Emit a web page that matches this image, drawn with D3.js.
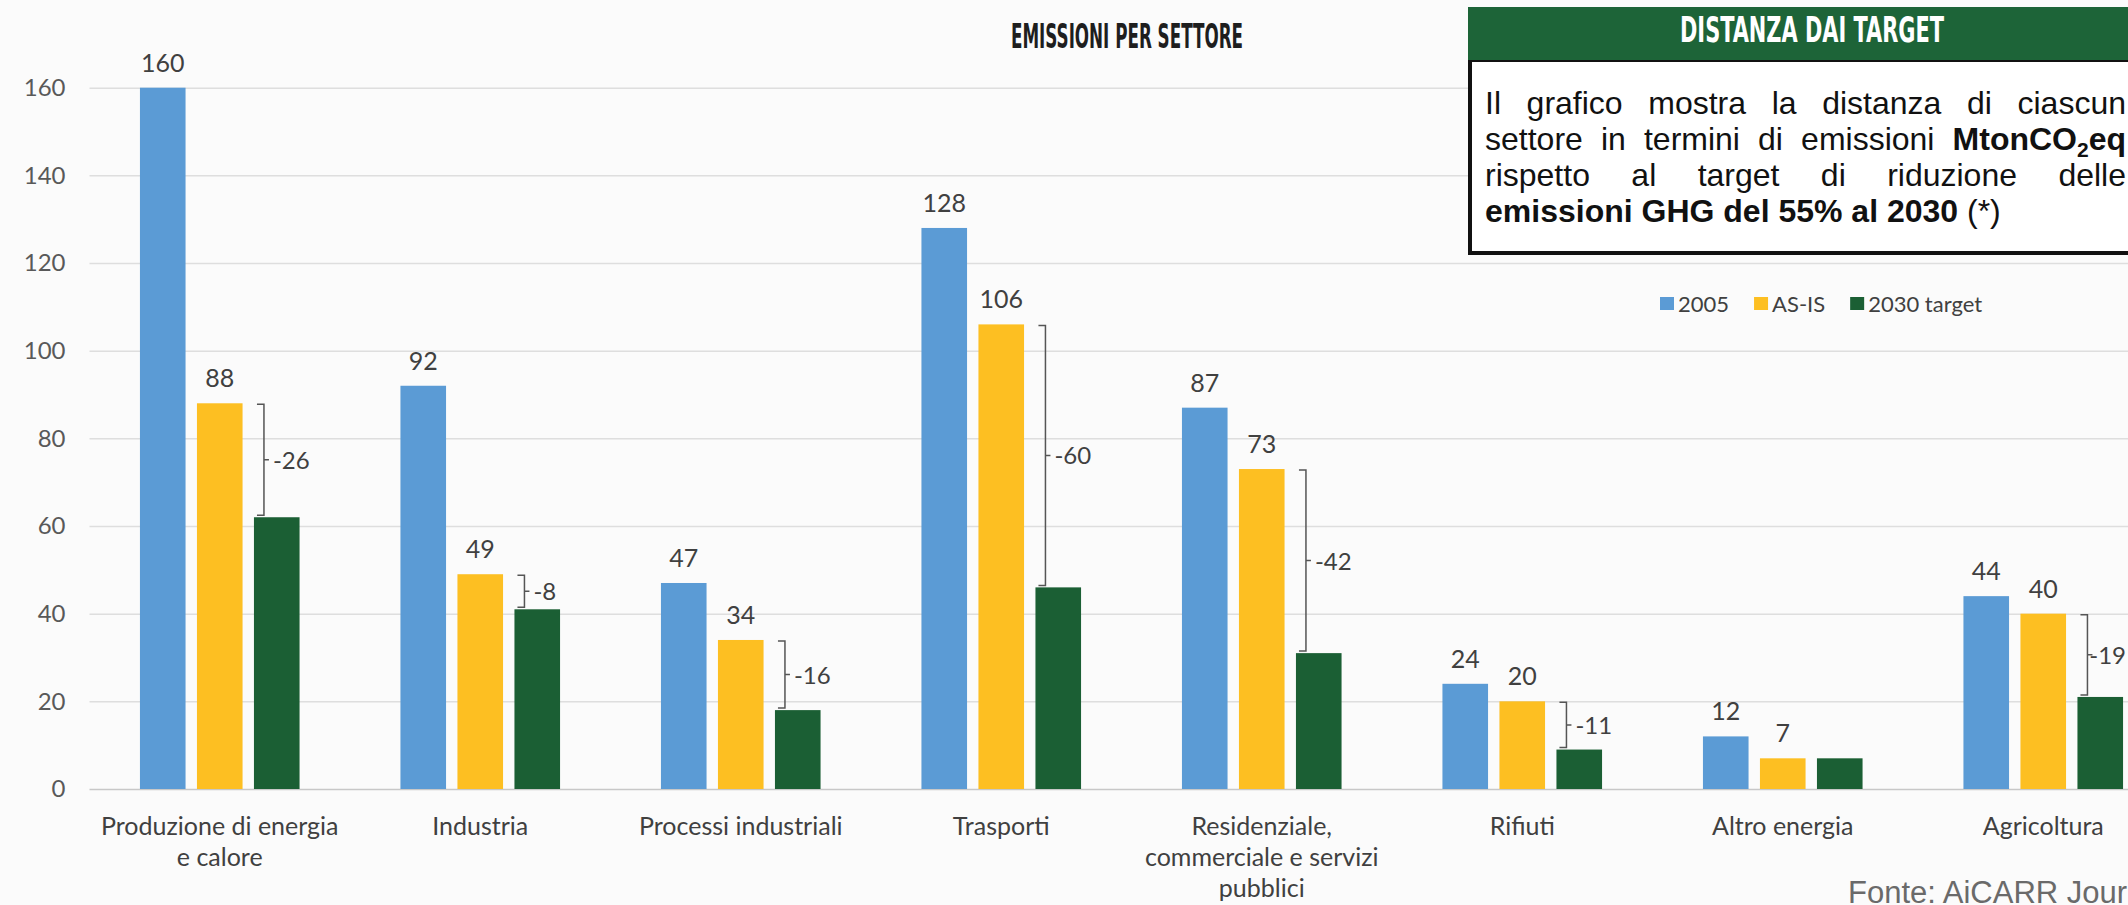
<!DOCTYPE html>
<meta charset="utf-8">
<script src="https://d3js.org/d3.v7.min.js"></script>
<style>
  body { margin: 0; background: #fbfbfb; }
  svg { display: block; }
</style>
<div id="chart"></div>
<script>

// sectors (line breaks as in the picture)
var categories = [
  "Produzione di energia\ne calore",
  "Industria",
  "Processi industriali",
  "Trasporti",
  "Residenziale,\ncommerciale e servizi\npubblici",
  "Rifiuti",
  "Altro energia",
  "Agricoltura"
];
var seriesNames = ["2005", "AS-IS", "2030 target"];
var v2005   = [160, 92, 47, 128, 87, 24, 12, 44];
var vAsIs   = [88, 49, 34, 106, 73, 20, 7, 40];
var vTarget = [62, 41, 18, 46, 31, 9, 7, 21];
// distance AS-IS -> target, as written next to the brackets
var gapLabels = ["-26", "-8", "-16", "-60", "-42", "-11", "", "-19"];
var yTicks = [0, 20, 40, 60, 80, 100, 120, 140, 160];

var colors = { "2005": "#5b9bd5", "AS-IS": "#fdbf22", "2030 target": "#1b5f34" };
var values = { "2005": v2005, "AS-IS": vAsIs, "2030 target": vTarget };

var W = 2128, H = 905;
var left = 89.5, step = 260.5;
var txt = "#404040";

var svg = d3.select("#chart").append("svg")
    .attr("width", W)
    .attr("height", H);

svg.append("rect").attr("width", W).attr("height", H).attr("fill", "#fbfbfb");

var x0 = d3.scaleBand()
    .domain(d3.range(categories.length))
    .range([left, left + step * categories.length]);

var x1 = d3.scaleBand()
    .domain(seriesNames)
    .range([0, x0.bandwidth()])
    .paddingInner(0.2)
    .paddingOuter(0.885);

var y = d3.scaleLinear().domain([0, 160]).range([789, 87.7]);

// y axis + gridlines
svg.append("g")
    .attr("transform", "translate(" + left + ",0)")
    .call(d3.axisLeft(y).tickValues(yTicks).tickSize(-(W - left)).tickPadding(24))
    .call(function(g) { g.select(".domain").remove(); })
    .call(function(g) {
      g.selectAll(".tick line")
        .attr("stroke", function(d) { return d === 0 ? "#c8c8c8" : "#dedede"; })
        .attr("stroke-width", 1.5);
    })
    .call(function(g) {
      g.selectAll(".tick text")
        .attr("font-family", "Lato, sans-serif")
        .attr("font-size", 24)
        .attr("fill", "#595959");
    });

// bars
var groups = svg.append("g").selectAll("g")
  .data(categories)
  .enter().append("g")
    .attr("transform", function(d, i) { return "translate(" + x0(i) + ",0)"; });

groups.selectAll("rect")
  .data(function(d, i) { return seriesNames.map(function(s) { return { s: s, v: values[s][i] }; }); })
  .enter().append("rect")
    .attr("x", function(d) { return x1(d.s); })
    .attr("y", function(d) { return y(d.v); })
    .attr("width", x1.bandwidth())
    .attr("height", function(d) { return y(0) - y(d.v); })
    .attr("fill", function(d) { return colors[d.s]; });

// value labels (only 2005 and AS-IS have them)
groups.selectAll("text.val")
  .data(function(d, i) { return ["2005", "AS-IS"].map(function(s) { return { s: s, v: values[s][i] }; }); })
  .enter().append("text")
    .attr("class", "val")
    .attr("x", function(d) { return x1(d.s) + x1.bandwidth() / 2; })
    .attr("y", function(d) { return y(d.v) - 16; })
    .attr("text-anchor", "middle")
    .attr("font-family", "Lato, sans-serif")
    .attr("font-size", 25)
    .attr("fill", txt)
    .text(function(d) { return d.v; });

// brackets between AS-IS and target
groups.each(function(d, i) {
  if (!gapLabels[i]) return;
  var g = d3.select(this);
  var gx = x1("2030 target") + 10;
  var yt = y(vAsIs[i]) + 1, yb = y(vTarget[i]) - 2, ym = (yt + yb) / 2;
  g.append("path")
    .attr("d", "M" + (gx - 7) + "," + yt + "H" + gx + "V" + yb + "H" + (gx - 7) +
               "M" + gx + "," + ym + "H" + (gx + 5))
    .attr("fill", "none")
    .attr("stroke", "#555")
    .attr("stroke-width", 1.5);
  var t = g.append("text")
    .attr("x", gx + 9)
    .attr("y", ym + 9)
    .attr("font-family", "Lato, sans-serif")
    .attr("font-size", 24)
    .attr("fill", txt)
    .text(gapLabels[i]);
  // keep the last label inside the picture
  var room = W - x0(i) - 2 - t.node().getComputedTextLength();
  if (gx + 9 > room) t.attr("x", Math.max(gx + 1, room));
});

// category labels
groups.append("text")
    .attr("x", x0.bandwidth() / 2)
    .attr("y", 835)
    .attr("text-anchor", "middle")
    .attr("font-family", "Lato, sans-serif")
    .attr("font-size", 25)
    .attr("fill", txt)
  .selectAll("tspan")
  .data(function(d) { return d.split("\n"); })
  .enter().append("tspan")
    .attr("x", x0.bandwidth() / 2)
    .attr("dy", function(d, j) { return j ? 31 : 0; })
    .text(function(d) { return d; });

// title
svg.append("text")
    .attr("x", 1127)
    .attr("y", 48)
    .attr("text-anchor", "middle")
    .attr("font-family", "'Liberation Sans Narrow', 'DejaVu Sans Condensed', sans-serif")
    .attr("font-weight", "bold")
    .attr("font-size", 34)
    .attr("fill", "#1e1e1e")
    .attr("textLength", 232)
    .attr("lengthAdjust", "spacingAndGlyphs")
    .text("EMISSIONI PER SETTORE");

// info box
var bx = 1470;
svg.append("rect")
    .attr("x", bx).attr("y", 60).attr("width", 720).attr("height", 193)
    .attr("fill", "#ffffff").attr("stroke", "#111").attr("stroke-width", 4);
svg.append("rect")
    .attr("x", bx - 2).attr("y", 7).attr("width", 720).attr("height", 53)
    .attr("fill", "#1d6438");
svg.append("text")
    .attr("x", 1812)
    .attr("y", 42)
    .attr("text-anchor", "middle")
    .attr("font-family", "'Liberation Sans Narrow', 'DejaVu Sans Condensed', sans-serif")
    .attr("font-weight", "bold")
    .attr("font-size", 36)
    .attr("fill", "#ffffff")
    .attr("textLength", 264)
    .attr("lengthAdjust", "spacingAndGlyphs")
    .text("DISTANZA DAI TARGET");

// box text: [text, bold, subscript]
var boxLines = [
  [["Il grafico mostra la distanza di ciascun", 0]],
  [["settore in termini di emissioni ", 0], ["MtonCO", 1], ["2", 1, 1], ["eq", 1]],
  [["rispetto al target di riduzione delle", 0]],
  [["emissioni GHG del 55% al 2030", 1], [" (*)", 0]]
];
var tx0 = 1485, tx1 = 2126;
boxLines.forEach(function(line, li) {
  var t = svg.append("text")
      .attr("x", tx0)
      .attr("y", 114 + li * 36)
      .attr("font-family", "'Liberation Sans', Arial, sans-serif")
      .attr("font-size", 32)
      .attr("fill", "#111");
  line.forEach(function(seg, k) {
    var prevSub = k > 0 && line[k - 1][2];
    t.append("tspan")
      .attr("font-weight", seg[1] ? "bold" : "normal")
      .attr("font-size", seg[2] ? 21 : 32)
      .attr("dy", seg[2] ? 7 : (prevSub ? -7 : 0))
      .text(seg[0]);
  });
  // justify all lines but the last
  if (li < boxLines.length - 1) {
    var full = line.map(function(s) { return s[0]; }).join("");
    var spaces = full.split(" ").length - 1;
    var w = t.node().getComputedTextLength();
    t.style("word-spacing", ((tx1 - tx0 - w) / spaces) + "px");
  }
});

// legend
var lx = 1660;
seriesNames.forEach(function(s) {
  svg.append("rect")
    .attr("x", lx).attr("y", 297).attr("width", 14).attr("height", 13)
    .attr("fill", colors[s]);
  var t = svg.append("text")
    .attr("x", lx + 18)
    .attr("y", 312)
    .attr("font-family", "Lato, sans-serif")
    .attr("font-size", 22)
    .attr("fill", txt)
    .text(s);
  lx += 18 + t.node().getComputedTextLength() + 25;
});

// source
svg.append("text")
    .attr("x", 1848)
    .attr("y", 903)
    .attr("font-family", "'Liberation Sans Narrow', 'Liberation Sans', sans-serif")
    .attr("font-size", 31)
    .attr("fill", "#6a6a6a")
    .text("Fonte: AiCARR Journal");

</script>
